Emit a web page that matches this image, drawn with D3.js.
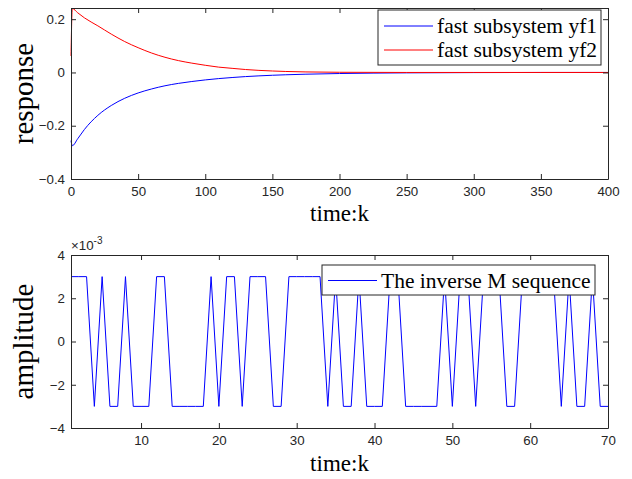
<!DOCTYPE html>
<html>
<head>
<meta charset="utf-8">
<script src="https://cdn.jsdelivr.net/npm/d3@7"></script>
<style>
  body { margin: 0; background: #fff; }
  .tick text { font-family: "Liberation Sans", Arial, sans-serif; font-size: 13.3px; fill: #262626; }
  .serif { font-family: "Liberation Serif", "Times New Roman", serif; fill: #000; }
</style>
</head>
<body>
<div id="chart"></div>
<script>
// Data
var respK = [0, 1, 5, 10, 20, 30, 40, 50, 60, 70, 80, 90, 100, 110, 120, 130, 140, 150, 160, 175, 200, 250, 300, 350, 400];
var yf1 = [-0.256, -0.275, -0.249, -0.214, -0.161, -0.124, -0.097, -0.077, -0.062, -0.050, -0.041, -0.034, -0.028, -0.023, -0.019, -0.0155, -0.0128, -0.0105, -0.0087, -0.0065, -0.004, -0.0015, -0.0005, 0, 0];
var yf2 = [0.062, 0.240, 0.224, 0.205, 0.175, 0.144, 0.116, 0.093, 0.073, 0.057, 0.0445, 0.035, 0.027, 0.020, 0.0155, 0.011, 0.0078, 0.0055, 0.0037, 0.002, 0.0007, 0, 0, 0, 0];

// inverse M sequence, units of 1e-3, k = 1..70
var mSeq = [3, 3, 3, -3, 3, -3, -3, 3, -3, -3, -3, 3, 3, -3, -3, -3, -3, -3, 3, -3,
            3, 3, -3, 3, 3, 3, -3, -3, 3, 3, 3, 3, 3, -3, 3, -3, -3, 3, -3, -3,
            -3, 3, 3, -3, -3, -3, -3, -3, 3, -3, 3, 3, -3, 3, 3, 3, -3, -3, 3, 3,
            3, 3, 3, -3, 3, -3, -3, 3, -3, -3];

var topXTicks = [0, 50, 100, 150, 200, 250, 300, 350, 400];
var topYTicks = [-0.4, -0.2, 0, 0.2];
var botXTicks = [10, 20, 30, 40, 50, 60, 70];
var botYTicks = [-4, -2, 0, 2, 4];

var svgWidth = 632;
var svgHeight = 479;
var left = 71, right = 608;
var axisColor = "#262626";

var svg = d3.select("#chart")
    .append("svg")
    .attr("width", svgWidth)
    .attr("height", svgHeight);

svg.append("rect").attr("width", svgWidth).attr("height", svgHeight).attr("fill", "#fff");

// draws a MATLAB-like box with inward ticks on all four sides
function drawAxes(g, x, y, xTicks, yTicks, yFmt) {
    var w = right - left;
    var h = y.range()[0] - y.range()[1];
    var tl = 5;

    var bottom = g.append("g")
        .attr("transform", `translate(0, ${h})`)
        .call(d3.axisBottom(x).tickValues(xTicks).tickSizeInner(-tl).tickSizeOuter(0).tickPadding(8));
    var top = g.append("g")
        .call(d3.axisTop(x).tickValues(xTicks).tickSizeInner(-tl).tickSizeOuter(0).tickFormat(""));
    var leftAx = g.append("g")
        .call(d3.axisLeft(y).tickValues(yTicks).tickSizeInner(-tl).tickSizeOuter(0).tickPadding(6).tickFormat(yFmt));
    var rightAx = g.append("g")
        .attr("transform", `translate(${w}, 0)`)
        .call(d3.axisRight(y).tickValues(yTicks).tickSizeInner(-tl).tickSizeOuter(0).tickFormat(""));

    [bottom, top, leftAx, rightAx].forEach(a => {
        a.select(".domain").attr("stroke", axisColor);
        a.selectAll(".tick line").attr("stroke", axisColor);
    });
}

function drawLegend(g, x0, y0, w, rowH, items) {
    var lg = g.append("g").attr("transform", `translate(${x0}, ${y0})`);
    lg.append("rect")
        .attr("width", w)
        .attr("height", rowH * items.length + 7)
        .attr("fill", "#fff")
        .attr("stroke", axisColor)
        .attr("stroke-width", 1);
    items.forEach((it, i) => {
        var cy = 4 + rowH * i + rowH / 2;
        lg.append("line")
            .attr("x1", 6).attr("x2", 55)
            .attr("y1", cy).attr("y2", cy)
            .attr("stroke", it.color);
        lg.append("text")
            .attr("class", "serif")
            .attr("x", 59)
            .attr("y", cy)
            .attr("dy", "0.33em")
            .attr("font-size", "21.5px")
            .text(it.label);
    });
}

// ---- Top chart: fast subsystem responses ----
var top1 = 8, bot1 = 179;
var x1 = d3.scaleLinear().domain([0, 400]).range([0, right - left]);
var y1 = d3.scaleLinear().domain([-0.4, 0.242]).range([bot1 - top1, 0]);

var g1 = svg.append("g").attr("transform", `translate(${left}, ${top1})`);

var line1 = d3.line()
    .x((d, i) => x1(respK[i]))
    .y(d => y1(d))
    .curve(d3.curveMonotoneX);

g1.append("path").datum(yf1).attr("d", line1).attr("fill", "none").attr("stroke", "#0000ff").attr("stroke-width", 1);
g1.append("path").datum(yf2).attr("d", line1).attr("fill", "none").attr("stroke", "#ff0000").attr("stroke-width", 1);

drawAxes(g1, x1, y1, topXTicks, topYTicks, d3.format(""));

drawLegend(g1, 307, 2, 223, 24, [
    { label: "fast subsystem yf1", color: "#0000ff" },
    { label: "fast subsystem yf2", color: "#ff0000" }
]);

svg.append("text")
    .attr("class", "serif")
    .attr("transform", `translate(33, ${(top1 + bot1) / 2}) rotate(-90)`)
    .attr("text-anchor", "middle")
    .attr("font-size", "29px")
    .text("response");

svg.append("text")
    .attr("class", "serif")
    .attr("x", (left + right) / 2)
    .attr("y", 221)
    .attr("text-anchor", "middle")
    .attr("font-size", "23px")
    .text("time:k");

// ---- Bottom chart: inverse M sequence ----
var top2 = 255, bot2 = 428;
var x2 = d3.scaleLinear().domain([1, 70]).range([0, right - left]);
var y2 = d3.scaleLinear().domain([-4, 4]).range([bot2 - top2, 0]);

var g2 = svg.append("g").attr("transform", `translate(${left}, ${top2})`);

var line2 = d3.line()
    .x((d, i) => x2(i + 1))
    .y(d => y2(d));

g2.append("path").datum(mSeq).attr("d", line2).attr("fill", "none").attr("stroke", "#0000ff").attr("stroke-width", 1);

drawAxes(g2, x2, y2, botXTicks, botYTicks, d3.format(""));

drawLegend(g2, 251, 10, 273, 23, [
    { label: "The inverse M sequence", color: "#0000ff" }
]);

// exponent label
var ex = svg.append("text")
    .attr("x", 71)
    .attr("y", 250)
    .attr("font-family", "Liberation Sans, Arial, sans-serif")
    .attr("font-size", "13.3px")
    .attr("fill", axisColor);
ex.append("tspan").text("\u00d710");
ex.append("tspan").attr("dy", -6).attr("font-size", "10px").text("-3");

svg.append("text")
    .attr("class", "serif")
    .attr("transform", `translate(33, ${(top2 + bot2) / 2}) rotate(-90)`)
    .attr("text-anchor", "middle")
    .attr("font-size", "29px")
    .text("amplitude");

svg.append("text")
    .attr("class", "serif")
    .attr("x", (left + right) / 2)
    .attr("y", 471)
    .attr("text-anchor", "middle")
    .attr("font-size", "23px")
    .text("time:k");
</script>
</body>
</html>
